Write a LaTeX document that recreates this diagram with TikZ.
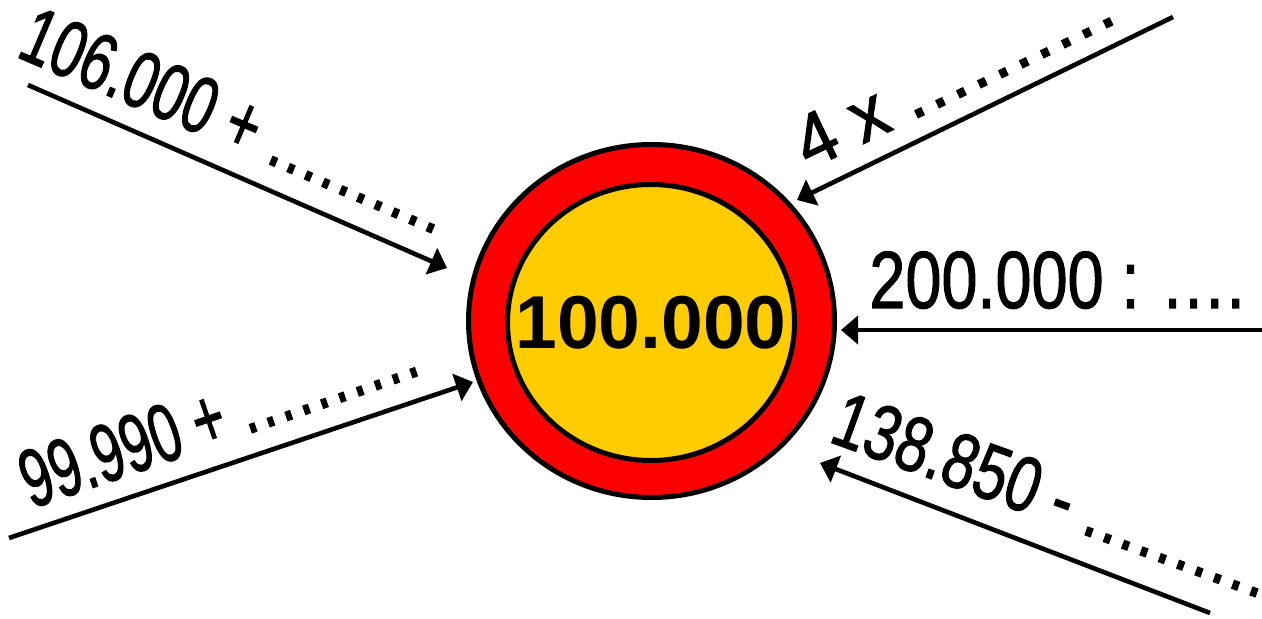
\documentclass[tikz,border=0pt]{standalone}
\usepackage{fontspec}
\setmainfont{Liberation Sans}
\newfontfamily\epais[FakeBold=1.5]{Liberation Sans}
\usepackage{graphicx}
\usetikzlibrary{arrows.meta,shapes.geometric}

\definecolor{gold}{HTML}{FFCC00}
\newcommand\pts[2]{\foreach \k in {1,...,#1}{.\kern#2}}
\newcommand\serre[2]{\scalebox{#1}[1]{#2}}
\newcommand\taille[1]{\fontsize{#1}{#1}\selectfont}

\begin{document}
\begin{tikzpicture}[x=0.5pt, y=-0.5pt,
    >={Triangle[length=8.5pt,width=14pt]},
    anneau/.style={ellipse, draw, line width=2.5pt, inner sep=0pt},
    fleche/.style={->, line width=2.3pt},
    etiq/.style={anchor=base west, inner sep=0pt},
  ]
  \useasboundingbox (0,0) rectangle (1262,619);
  % --- cible ---
  \node[anneau, fill=red, minimum width=183pt, minimum height=176.5pt] (ext) at (651.5,321) {};
  \node[anneau, fill=gold, minimum width=143.5pt, minimum height=138pt] (int) at (651,322.5) {};
  \node[font=\taille{37.5}\bfseries] (nb) at (int) {100.000};

  % --- extremites des fleches ---
  \coordinate (d1) at (28,85);    \coordinate (a1) at (447,268);
  \coordinate (d2) at (9,538);    \coordinate (a2) at (473,382);
  \coordinate (d3) at (1173,17);  \coordinate (a3) at (797,200);
  \coordinate (d4) at (1262,330); \coordinate (a4) at (841,330);
  \coordinate (d5) at (1210,613); \coordinate (a5) at (820,463);

  \draw[fleche] (d1) -- (a1);
  \draw[fleche] (d2) -- (a2);
  \draw[fleche] (d3) -- (a3);
  \draw[fleche] (d4) -- (a4);
  \draw[fleche] (d5) -- (a5);

  % --- calculs ---
  \node[etiq, rotate=-23, font=\epais\taille{40}] (c1) at (14.5,56)
    {\serre{0.71}{106.000 + \kern1pt\pts{10}{2.2pt}}};
  \node[etiq, rotate=19, font=\epais\taille{41}] (c2) at (31,509)
    {\serre{0.66}{99.990 + \kern1pt\pts{10}{2.9pt}}};
  \node[etiq, rotate=25.5, font=\epais\taille{37}] (c3) at (808.7,170)
    {\serre{0.96}{4 x \pts{10}{1.8pt}}};
  \node[etiq, font=\epais\taille{40.5}] (c4) at (869,308)
    {\serre{0.8}{200.000 : \pts{4}{1.9pt}}};
  \node[etiq, rotate=-20, font=\epais\taille{39}] (c5) at (827,441)
    {\serre{0.765}{138.850 - \pts{10}{1.9pt}}};
\end{tikzpicture}
\end{document}
